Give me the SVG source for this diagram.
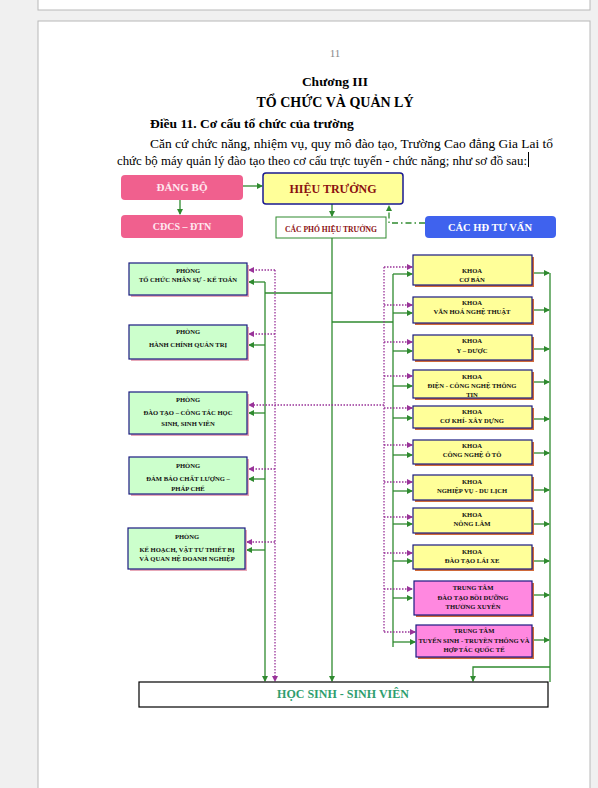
<svg xmlns="http://www.w3.org/2000/svg" width="598" height="788" viewBox="0 0 598 788">
<style>
.serif{font-family:"Liberation Serif","DejaVu Serif",serif;}
.b{font-weight:bold;}
.g{stroke:#2f8a2f;stroke-width:1.3;fill:none;}
.p{stroke:#993399;stroke-width:1.3;fill:none;stroke-dasharray:1.5 1.5;}
.lb{fill:#ccffcc;stroke:#1a1a80;stroke-width:1.2;}
.lbs{fill:#e8a8b8;}
.yb{fill:#ffff99;stroke:#1a1a80;stroke-width:1.2;}
.ybs{fill:#d06a3a;}
.mb{fill:#ff88e0;stroke:#1a1a80;stroke-width:1.2;}
.t7{font-size:6.6px;font-weight:bold;fill:#111;text-anchor:middle;font-family:"Liberation Serif","DejaVu Serif",serif;}
</style>
<defs>
<marker id="ag" markerWidth="6" markerHeight="6" refX="5" refY="3" orient="auto" markerUnits="userSpaceOnUse"><path d="M0,0 L6,3 L0,6 z" fill="#2f8a2f"/></marker>
<marker id="ap" markerWidth="6" markerHeight="6" refX="5" refY="3" orient="auto" markerUnits="userSpaceOnUse"><path d="M0,0 L6,3 L0,6 z" fill="#993399"/></marker>
</defs>
<rect x="0" y="0" width="598" height="788" fill="#f0f0f0"/>
<rect x="38" y="-5" width="552" height="15" fill="#ffffff" stroke="#b8b8b8" stroke-width="1"/>
<rect x="38" y="21" width="552" height="780" fill="#ffffff" stroke="#b8b8b8" stroke-width="1"/>

<g id="header" class="serif">
<text x="335" y="57" font-size="11" fill="#888" text-anchor="middle">11</text>
<text x="335" y="86" font-size="13.5" class="b" fill="#000" text-anchor="middle">Chương III</text>
<text x="335" y="107" font-size="14" class="b" fill="#000" text-anchor="middle">TỔ CHỨC VÀ QUẢN LÝ</text>
<text x="150" y="128" font-size="13.5" class="b" fill="#000">Điều 11. Cơ cấu tổ chức của trường</text>
<text x="150" y="148" font-size="13" fill="#000" textLength="403" lengthAdjust="spacingAndGlyphs">Căn cứ chức năng, nhiệm vụ, quy mô đào tạo, Trường Cao đẳng Gia Lai tổ</text>
<text x="117" y="165" font-size="13" fill="#000" textLength="410" lengthAdjust="spacingAndGlyphs">chức bộ máy quản lý đào tạo theo cơ cấu trực tuyến - chức năng; như sơ đồ sau:</text>
<line x1="528.5" y1="152" x2="528.5" y2="167" stroke="#000" stroke-width="1"/>
</g>

<g id="connectors">
<line class="g" x1="243" y1="186" x2="262" y2="186" marker-end="url(#ag)"/>
<line class="g" x1="180" y1="200" x2="180" y2="214" marker-end="url(#ag)"/>
<line class="g" x1="332" y1="204" x2="332" y2="216" marker-end="url(#ag)"/>
<path d="M425,223 L389,223 L389,206" fill="none" stroke="#2f8a2f" stroke-width="1.3" stroke-dasharray="6 3 1.5 3" marker-end="url(#ag)"/>
<line class="g" x1="332" y1="238" x2="332" y2="681" marker-end="url(#ag)"/>
<!-- left branch -->
<line class="g" x1="332" y1="293" x2="265" y2="293"/>
<line class="g" x1="265" y1="282" x2="265" y2="681" marker-end="url(#ag)"/>
<line class="p" x1="275" y1="270" x2="275" y2="681" marker-end="url(#ap)"/>
<line class="g" x1="265" y1="282" x2="249" y2="282" marker-end="url(#ag)"/>
<line class="g" x1="265" y1="345" x2="249" y2="345" marker-end="url(#ag)"/>
<line class="g" x1="265" y1="413" x2="249" y2="413" marker-end="url(#ag)"/>
<line class="g" x1="265" y1="479" x2="249" y2="479" marker-end="url(#ag)"/>
<line class="g" x1="265" y1="550" x2="247" y2="550" marker-end="url(#ag)"/>
<line class="p" x1="275" y1="270" x2="249" y2="270" marker-end="url(#ap)"/>
<line class="p" x1="275" y1="334" x2="249" y2="334" marker-end="url(#ap)"/>
<line class="p" x1="384" y1="405" x2="249" y2="405" marker-end="url(#ap)"/>
<line class="p" x1="275" y1="469" x2="249" y2="469" marker-end="url(#ap)"/>
<line class="p" x1="275" y1="542" x2="247" y2="542" marker-end="url(#ap)"/>
<!-- right branch -->
<line class="g" x1="332" y1="322" x2="393" y2="322"/>
<line class="g" x1="393" y1="274" x2="393" y2="647"/>
<line class="p" x1="384" y1="267" x2="384" y2="632"/>
<line class="p" x1="384" y1="267" x2="412" y2="267" marker-end="url(#ap)"/>
<line class="g" x1="393" y1="274" x2="412" y2="274" marker-end="url(#ag)"/>
<line class="p" x1="384" y1="305" x2="412" y2="305" marker-end="url(#ap)"/>
<line class="g" x1="393" y1="313" x2="412" y2="313" marker-end="url(#ag)"/>
<line class="p" x1="384" y1="342" x2="412" y2="342" marker-end="url(#ap)"/>
<line class="g" x1="393" y1="351" x2="412" y2="351" marker-end="url(#ag)"/>
<line class="p" x1="384" y1="376" x2="412" y2="376" marker-end="url(#ap)"/>
<line class="g" x1="393" y1="386" x2="412" y2="386" marker-end="url(#ag)"/>
<line class="p" x1="384" y1="408" x2="412" y2="408" marker-end="url(#ap)"/>
<line class="g" x1="393" y1="418" x2="412" y2="418" marker-end="url(#ag)"/>
<line class="p" x1="384" y1="445" x2="412" y2="445" marker-end="url(#ap)"/>
<line class="g" x1="393" y1="455" x2="412" y2="455" marker-end="url(#ag)"/>
<line class="p" x1="384" y1="482" x2="412" y2="482" marker-end="url(#ap)"/>
<line class="g" x1="393" y1="491" x2="412" y2="491" marker-end="url(#ag)"/>
<line class="p" x1="384" y1="517" x2="412" y2="517" marker-end="url(#ap)"/>
<line class="g" x1="393" y1="524" x2="412" y2="524" marker-end="url(#ag)"/>
<line class="p" x1="384" y1="553" x2="412" y2="553" marker-end="url(#ap)"/>
<line class="g" x1="393" y1="561" x2="412" y2="561" marker-end="url(#ag)"/>
<line class="p" x1="384" y1="589" x2="412" y2="589" marker-end="url(#ap)"/>
<line class="g" x1="393" y1="598" x2="412" y2="598" marker-end="url(#ag)"/>
<line class="p" x1="384" y1="632" x2="415" y2="632" marker-end="url(#ap)"/>
<line class="g" x1="393" y1="642" x2="415" y2="642" marker-end="url(#ag)"/>
<!-- outputs -->
<line class="g" x1="550" y1="273" x2="550" y2="682"/>
<line class="g" x1="532" y1="273" x2="549" y2="273" marker-end="url(#ag)"/>
<line class="g" x1="532" y1="310" x2="549" y2="310" marker-end="url(#ag)"/>
<line class="g" x1="532" y1="349" x2="549" y2="349" marker-end="url(#ag)"/>
<line class="g" x1="532" y1="382" x2="549" y2="382" marker-end="url(#ag)"/>
<line class="g" x1="532" y1="419" x2="549" y2="419" marker-end="url(#ag)"/>
<line class="g" x1="532" y1="453" x2="549" y2="453" marker-end="url(#ag)"/>
<line class="g" x1="532" y1="490" x2="549" y2="490" marker-end="url(#ag)"/>
<line class="g" x1="532" y1="524" x2="549" y2="524" marker-end="url(#ag)"/>
<line class="g" x1="532" y1="561" x2="549" y2="561" marker-end="url(#ag)"/>
<line class="g" x1="532" y1="595" x2="549" y2="595" marker-end="url(#ag)"/>
<line class="g" x1="532" y1="640" x2="549" y2="640" marker-end="url(#ag)"/>
<path class="g" d="M550,667 L473,667 L473,681" marker-end="url(#ag)"/>
</g>

<g id="dang-bo">
<rect x="121" y="175" width="122" height="25" rx="4" fill="#f0608e"/>
<text x="182" y="191" class="serif b" font-size="11" fill="#ffe8f0" text-anchor="middle">ĐẢNG BỘ</text>
</g>
<g id="cdcs-dtn">
<rect x="121" y="215" width="122" height="23" rx="4" fill="#f0608e"/>
<text x="182" y="230" class="serif b" font-size="10" fill="#ffe8f0" text-anchor="middle">CĐCS – ĐTN</text>
</g>
<g id="hieu-truong">
<rect x="263" y="173" width="140" height="31" rx="3" fill="#ffff99" stroke="#1a1a90" stroke-width="1.5"/>
<text x="333" y="193" class="serif b" font-size="12" fill="#8b1010" text-anchor="middle">HIỆU TRƯỞNG</text>
</g>
<g id="pho-hieu-truong">
<rect x="276" y="217" width="110" height="21" fill="#ffffff" stroke="#2f8a2f" stroke-width="1"/>
<text x="331" y="232" class="serif b" font-size="7.6" fill="#8b1010" text-anchor="middle">CÁC PHÓ HIỆU TRƯỞNG</text>
</g>
<g id="hd-tu-van">
<rect x="425" y="216" width="131" height="22" rx="4" fill="#3f62ee"/>
<text x="490" y="231" class="serif b" font-size="10.5" fill="#ffffff" text-anchor="middle">CÁC HĐ TƯ VẤN</text>
</g>

<g id="phong-tcns">
<rect class="lbs" x="131" y="265" width="118" height="32"/>
<rect class="lb" x="129" y="263" width="118" height="32"/>
<text class="t7" x="188" y="273">PHÒNG</text>
<text class="t7" x="188" y="282">TỔ CHỨC NHÂN SỰ - KẾ TOÁN</text>
</g>
<g id="phong-hcqt">
<rect class="lbs" x="131" y="327" width="118" height="34"/>
<rect class="lb" x="129" y="325" width="118" height="34"/>
<text class="t7" x="188" y="334">PHÒNG</text>
<text class="t7" x="188" y="347">HÀNH CHÍNH QUẢN TRỊ</text>
</g>
<g id="phong-daotao">
<rect class="lbs" x="131" y="394" width="118" height="42"/>
<rect class="lb" x="129" y="392" width="118" height="42"/>
<text class="t7" x="188" y="402">PHÒNG</text>
<text class="t7" x="188" y="415">ĐÀO TẠO – CÔNG TÁC HỌC</text>
<text class="t7" x="188" y="426">SINH, SINH VIÊN</text>
</g>
<g id="phong-dbcl">
<rect class="lbs" x="131" y="459" width="118" height="37"/>
<rect class="lb" x="129" y="457" width="118" height="37"/>
<text class="t7" x="188" y="468">PHÒNG</text>
<text class="t7" x="188" y="481">ĐẢM BẢO CHẤT LƯỢNG –</text>
<text class="t7" x="188" y="491">PHÁP CHẾ</text>
</g>
<g id="phong-khvt">
<rect class="lbs" x="130" y="530" width="117" height="41"/>
<rect class="lb" x="128" y="528" width="117" height="41"/>
<text class="t7" x="187" y="539">PHÒNG</text>
<text class="t7" x="187" y="552">KẾ HOẠCH, VẬT TƯ THIẾT BỊ</text>
<text class="t7" x="187" y="561">VÀ QUAN HỆ DOANH NGHIỆP</text>
</g>

<g id="khoa-cb">
<rect class="ybs" x="415" y="257" width="119" height="30"/>
<rect class="yb" x="413" y="255" width="119" height="30"/>
<text class="t7" x="472" y="273">KHOA</text>
<text class="t7" x="472" y="282">CƠ BẢN</text>
</g>
<g id="khoa-vhnt">
<rect class="ybs" x="415" y="299" width="119" height="26"/>
<rect class="yb" x="413" y="297" width="119" height="26"/>
<text class="t7" x="472" y="305">KHOA</text>
<text class="t7" x="472" y="314">VĂN HOÁ NGHỆ THUẬT</text>
</g>
<g id="khoa-yd">
<rect class="ybs" x="415" y="337" width="119" height="25"/>
<rect class="yb" x="413" y="335" width="119" height="25"/>
<text class="t7" x="472" y="343">KHOA</text>
<text class="t7" x="472" y="353">Y – DƯỢC</text>
</g>
<g id="khoa-dcntt">
<rect class="ybs" x="415" y="372" width="119" height="28"/>
<rect class="yb" x="413" y="370" width="119" height="28"/>
<text class="t7" x="472" y="379">KHOA</text>
<text class="t7" x="472" y="388">ĐIỆN - CÔNG NGHỆ THÔNG</text>
<text class="t7" x="472" y="397">TIN</text>
</g>
<g id="khoa-ckxd">
<rect class="ybs" x="415" y="408" width="119" height="22"/>
<rect class="yb" x="413" y="406" width="119" height="22"/>
<text class="t7" x="472" y="414">KHOA</text>
<text class="t7" x="472" y="423">CƠ KHÍ- XÂY DỰNG</text>
</g>
<g id="khoa-cnot">
<rect class="ybs" x="415" y="442" width="119" height="24"/>
<rect class="yb" x="413" y="440" width="119" height="24"/>
<text class="t7" x="472" y="448">KHOA</text>
<text class="t7" x="472" y="457">CÔNG NGHỆ Ô TÔ</text>
</g>
<g id="khoa-nvdl">
<rect class="ybs" x="415" y="477" width="119" height="25"/>
<rect class="yb" x="413" y="475" width="119" height="25"/>
<text class="t7" x="472" y="484">KHOA</text>
<text class="t7" x="472" y="493">NGHIỆP VỤ - DU LỊCH</text>
</g>
<g id="khoa-nl">
<rect class="ybs" x="415" y="510" width="119" height="25"/>
<rect class="yb" x="413" y="508" width="119" height="25"/>
<text class="t7" x="472" y="517">KHOA</text>
<text class="t7" x="472" y="526">NÔNG LÂM</text>
</g>
<g id="khoa-dtlx">
<rect class="ybs" x="415" y="547" width="119" height="24"/>
<rect class="yb" x="413" y="545" width="119" height="24"/>
<text class="t7" x="472" y="554">KHOA</text>
<text class="t7" x="472" y="563">ĐÀO TẠO LÁI XE</text>
</g>
<g id="tt-dtbd">
<rect class="ybs" x="416" y="583" width="118" height="34"/>
<rect class="mb" x="414" y="581" width="118" height="34"/>
<text class="t7" x="473" y="590">TRUNG TÂM</text>
<text class="t7" x="473" y="600">ĐÀO TẠO BỒI DƯỠNG</text>
<text class="t7" x="473" y="609">THƯỜNG XUYÊN</text>
</g>
<g id="tt-tstt">
<rect class="ybs" x="418" y="627" width="116" height="32"/>
<rect class="mb" x="416" y="625" width="116" height="32"/>
<text class="t7" x="474" y="633">TRUNG TÂM</text>
<text class="t7" x="474" y="643">TUYỂN SINH - TRUYỀN THÔNG VÀ</text>
<text class="t7" x="474" y="652">HỢP TÁC QUỐC TẾ</text>
</g>

<g id="hoc-sinh">
<rect x="139" y="682" width="409" height="25" fill="#ffffff" stroke="#000" stroke-width="1.2"/>
<text x="343" y="698" class="serif b" font-size="12" fill="#2e9e6e" text-anchor="middle">HỌC SINH - SINH VIÊN</text>
</g>
</svg>
